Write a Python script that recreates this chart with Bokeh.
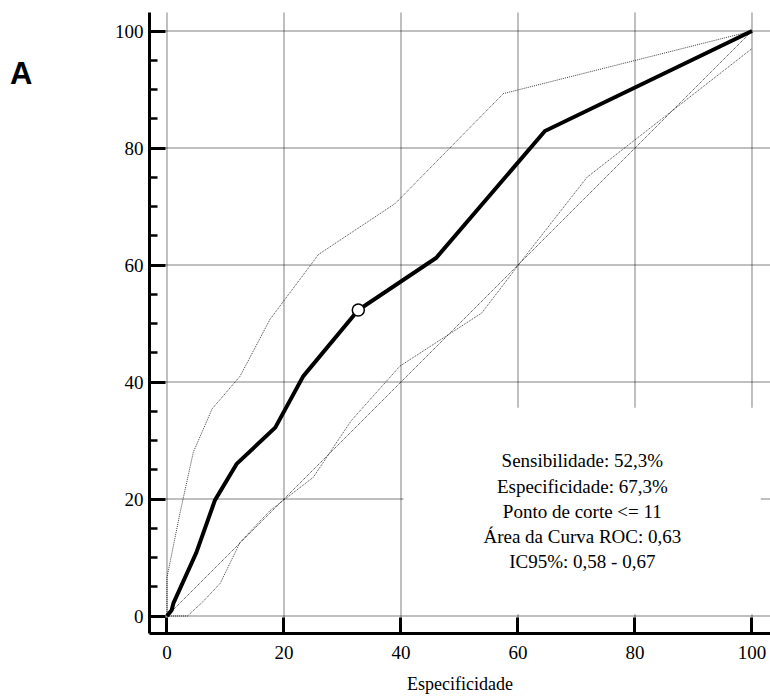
from bokeh.plotting import figure
from bokeh.models import FixedTicker, LinearAxis, Range1d, ColumnDataSource
from bokeh.embed import file_html
from bokeh.resources import INLINE
from bokeh.core.properties import value

# ---- data ----
roc_x = [0, 0.8, 1.1, 5.0, 8.2, 11.9, 18.5, 23.3, 32.7, 46.0, 64.6, 100]
roc_y = [0, 1.0, 2.2, 10.8, 19.8, 26.0, 32.2, 41.0, 52.3, 61.2, 82.9, 100]

upper_x = [0, 0, 2.2, 4.5, 7.7, 12.5, 17.6, 25.9, 39.0, 57.5, 100]
upper_y = [0, 6.6, 17.5, 28.0, 35.4, 41.0, 50.7, 61.8, 70.5, 89.3, 100]

lower_x = [0, 3.5, 6.2, 9.1, 12.5, 17.6, 25.0, 31.5, 39.8, 53.8, 60.3, 71.8, 100]
lower_y = [0, 0, 2.5, 5.6, 12.6, 18.0, 23.7, 33.4, 42.7, 51.8, 60.3, 75.0, 97.0]

diag_x = [0, 100]
diag_y = [0, 100]

cut_x = [32.7]
cut_y = [52.3]

stats_lines = [
    "Sensibilidade: 52,3%",
    "Especificidade: 67,3%",
    "Ponto de corte <= 11",
    "Área da Curva ROC: 0,63",
    "IC95%: 0,58 - 0,67",
]

tick_values = [0, 20, 40, 60, 80, 100]
minor_values = list(range(0, 101, 5))

panel_label = "A"
x_label = "Especificidade"

SERIF = "Liberation Serif"

R0, R1 = -2.99145, 103.1624   # axis range (0 and 100 land on pixel centres)

p = figure(frame_width=621, frame_height=621,
           x_range=Range1d(R0, R1), y_range=Range1d(R0, R1),
           output_backend="svg", toolbar_location=None,
           min_border_left=149, min_border_right=0,
           min_border_top=12, min_border_bottom=65)
p.outline_line_color = None
p.background_fill_color = "white"
p.border_fill_color = "white"
p.xgrid.visible = False
p.ygrid.visible = False

# axes
for ax in (p.xaxis, p.yaxis):
    ax.axis_line_width = 3
    ax.axis_line_color = "black"
    ax.major_tick_in = 16
    ax.major_tick_out = 0
    ax.major_tick_line_width = 3
    ax.major_tick_line_color = "black"
    ax.major_label_text_font = SERIF
    ax.major_label_text_font_size = "19px"
    ax.major_label_text_color = "black"
    ax.axis_label_text_font = SERIF
    ax.axis_label_text_font_size = "18px"
    ax.axis_label_text_font_style = "normal"
    ax.axis_label_text_color = "black"

p.xaxis.ticker = FixedTicker(ticks=tick_values)
p.xaxis.minor_tick_line_color = None
p.xaxis.axis_label = x_label
p.xaxis.major_label_standoff = 12
p.xaxis.axis_label_standoff = 12

p.yaxis.ticker = FixedTicker(ticks=tick_values, minor_ticks=minor_values)
p.yaxis.major_label_standoff = 6
p.yaxis.minor_tick_in = 8
p.yaxis.minor_tick_out = 0
p.yaxis.minor_tick_line_width = 2.5
p.yaxis.minor_tick_line_color = "black"

# panel label "A" (drawn as an outer, line-less left axis label)
a_pos = 92.8
a_axis = LinearAxis(ticker=FixedTicker(ticks=[a_pos]),
                    major_label_overrides={a_pos: panel_label},
                    axis_line_color=None, major_tick_line_color=None,
                    minor_tick_line_color=None,
                    major_label_text_font="Liberation Sans",
                    major_label_text_font_style="bold",
                    major_label_text_font_size="31px",
                    major_label_text_color="black",
                    major_label_standoff=73)
p.add_layout(a_axis, "left")

# dotted grid lines at the tick values (drawn as glyphs so they stay crisp)
n = len(tick_values)
p.segment(x0=tick_values, y0=[R0] * n, x1=tick_values, y1=[R1] * n,
          line_color="black", line_width=1, line_dash="1 1")
p.segment(x0=[R0] * n, y0=tick_values, x1=[R1] * n, y1=tick_values,
          line_color="black", line_width=1, line_dash="1 1")

# white box behind the statistics text (hides grid)
p.quad(left=[40.43], right=[101.5], bottom=[0.3], top=[35.6],
       fill_color="white", line_color=None)

# reference diagonal and confidence bounds
p.line(diag_x, diag_y, line_color="black", line_width=1, line_dash="1 1", line_alpha=0.8)
p.line(upper_x, upper_y, line_color="black", line_width=1, line_dash="1 1", line_alpha=0.75)
p.line(lower_x, lower_y, line_color="black", line_width=1, line_dash="1 1", line_alpha=0.75)

# ROC curve
p.line(roc_x, roc_y, line_color="black", line_width=4, line_join="miter")
p.scatter(cut_x, cut_y, size=12, marker="circle", fill_color="white",
          line_color="black", line_width=1.5)

# statistics text
y0, step = 26.5, 4.3
src = ColumnDataSource(dict(x=[71.0] * len(stats_lines),
                            y=[y0 - i * step for i in range(len(stats_lines))],
                            t=stats_lines))
p.text(x="x", y="y", text="t", source=src, text_font=value(SERIF),
       text_font_size=value("19px"), text_align="center",
       text_baseline="alphabetic", text_color="black")

open("out.html", "w").write(file_html(p, INLINE))
